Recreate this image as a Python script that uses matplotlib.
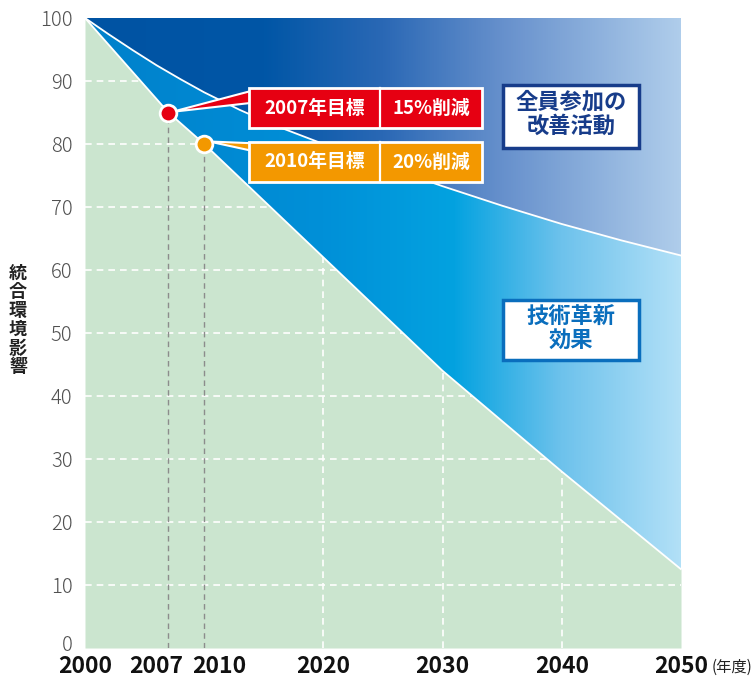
import matplotlib
matplotlib.use("Agg")
import matplotlib.pyplot as plt
import numpy as np
from matplotlib.colors import LinearSegmentedColormap
from matplotlib.patches import Polygon, Rectangle
from matplotlib.transforms import ScaledTranslation

plt.rcParams['font.family'] = ['Noto Sans CJK JP', 'DejaVu Sans']

# data
curve_years = [2000, 2002, 2004, 2006, 2008, 2010, 2013, 2016, 2020, 2025, 2030, 2035, 2040, 2045, 2050]
curve_vals = [100, 97.4, 94.9, 92.5, 90.3, 88.2, 85.4, 82.9, 80, 76.6, 73.3, 70.2, 67.3, 64.7, 62.3]  # 全員参加の改善活動 boundary
line_years = [2000, 2007, 2010, 2020, 2030, 2040, 2050]
line_vals = [100, 85, 80, 62, 44, 28, 12.5]                                     # 技術革新 boundary
target_years = [2007, 2010]
target_vals = [85, 80]
target_names = ['2007年目標', '2010年目標']
target_cuts = ['15%削減', '20%削減']
target_colors = ['#E60012', '#F39800']
xtick_years = [2000, 2007, 2010, 2020, 2030, 2040, 2050]
ytick_vals = list(range(0, 101, 10))

W, H = 753, 677
fig = plt.figure(figsize=(W / 100, H / 100), dpi=100)
ax = fig.add_axes([85 / W, (H - 648) / H, 596 / W, 630 / H])
ax.set_xlim(2000, 2050)
ax.set_ylim(0, 100)
for s in ax.spines.values():
    s.set_visible(False)

# green area
ax.fill_between(line_years, 0, line_vals, color='#CBE5CF', lw=0, zorder=1)

# white dashed grid (only shows on the green)
for v in ytick_vals[1:-1]:
    ax.axhline(v, color='white', lw=1.2, ls=(0, (4, 3)), zorder=2)
for yr in [2020, 2030, 2040]:
    ax.axvline(yr, color='white', lw=1.2, ls=(0, (4, 3)), zorder=2)

# gradient regions
grad = np.linspace(0, 1, 512).reshape(1, -1)
top_cmap = LinearSegmentedColormap.from_list('top', [
    (0, '#0053A3'), (0.3, '#0056A6'), (0.5, '#2A68B5'), (0.7, '#6690CC'), (1, '#AFCDEB')])
mid_cmap = LinearSegmentedColormap.from_list('mid', [
    (0, '#0080CB'), (0.4, '#0090D8'), (0.62, '#03A2E0'), (0.8, '#6DC2EC'), (1, '#B2E0F7')])

top_poly = Polygon(list(zip(curve_years, curve_vals)) + [(2050, 100), (2000, 100)],
                   closed=True, transform=ax.transData, fc='none', ec='none')
mid_poly = Polygon(list(zip(line_years, line_vals)) + list(zip(curve_years[::-1], curve_vals[::-1])),
                   closed=True, transform=ax.transData, fc='none', ec='none')
ax.add_patch(top_poly)
ax.add_patch(mid_poly)
im1 = ax.imshow(grad, cmap=top_cmap, extent=[2000, 2050, 0, 100], aspect='auto', zorder=3)
im1.set_clip_path(top_poly)
im2 = ax.imshow(grad, cmap=mid_cmap, extent=[2000, 2050, 0, 100], aspect='auto', zorder=3)
im2.set_clip_path(mid_poly)

ax.plot(curve_years, curve_vals, color='white', lw=1.3, zorder=4)
ax.plot(line_years, line_vals, color='white', lw=1.3, zorder=4)

# target markers with gray drop lines
for yr, v, c in zip(target_years, target_vals, target_colors):
    ax.plot([yr, yr], [0, v], color='#8C8C8C', lw=1, ls=(0, (4, 3)), zorder=2.5)
    ax.plot(yr, v, 'o', ms=12, mfc=c, mec='white', mew=2, zorder=8)

# callouts
box_x0, box_x1, box_div = 2013.75, 2033.3, 2024.75
box_rows = [(82.5, 88.9), (74.0, 80.3)]
wedges = [[(2007.3, 85.1), (2014.3, 88.6), (2014.3, 86.6)],
          [(2010.4, 80.4), (2014.3, 80.1), (2014.3, 78.8)]]
for (y0, y1), wg, name, cut, c in zip(box_rows, wedges, target_names, target_cuts, target_colors):
    ax.add_patch(Polygon(wg, closed=True, fc=c, ec='white', lw=1.5, zorder=6, joinstyle='miter'))
    ax.add_patch(Rectangle((box_x0, y0), box_x1 - box_x0, y1 - y0, fc=c, ec='white', lw=2, zorder=7))
    ax.plot([box_div, box_div], [y0, y1], color='white', lw=1.6, zorder=7.5)
    ym = (y0 + y1) / 2
    ax.text((box_x0 + box_div) / 2, ym, name, color='white', fontsize=13.5, fontweight='bold',
            ha='center', va='center', zorder=8)
    ax.text((box_div + box_x1) / 2, ym, cut, color='white', fontsize=13.5, fontweight='bold',
            ha='center', va='center', zorder=8)

# white label boxes
label_boxes = [((2035.1, 79.4, 2046.5, 89.4), '全員参加の\n改善活動', '#173C8A'),
               ((2035.1, 45.7, 2046.5, 55.2), '技術革新\n効果', '#0A6EBD')]
for (x0, y0, x1, y1), txt, c in label_boxes:
    ax.add_patch(Rectangle((x0, y0), x1 - x0, y1 - y0, fc='white', ec=c, lw=2.5, zorder=7))
    ax.text((x0 + x1) / 2, (y0 + y1) / 2 + 0.3, txt, color=c, fontsize=16, fontweight='bold',
            ha='center', va='center', linespacing=1.05, zorder=8)

# axes text
ax.set_yticks(ytick_vals)
ax.set_yticklabels(['' if v == 0 else str(v) for v in ytick_vals], fontsize=14.5,
                   color='#505050', fontweight='light')
for lab in ax.get_yticklabels():
    lab.set_verticalalignment('center_baseline')
# the "0" sits a little higher, clear of the year labels
ax.annotate('0', xy=(0, 0), xycoords='axes fraction', xytext=(-9, 3.5), textcoords='offset points',
            ha='right', va='center_baseline', fontsize=14.5, color='#505050', fontweight='light')
ax.set_xticks(xtick_years)
ax.set_xticklabels([str(v) for v in xtick_years], fontsize=16.5, fontweight='bold', color='#111111')
ax.tick_params(axis='both', length=0)
ax.tick_params(axis='y', pad=9)
ax.tick_params(axis='x', pad=5)
shifts = {2007: -12, 2010: 15}
for yr, lab in zip(xtick_years, ax.get_xticklabels()):
    if yr in shifts:
        lab.set_transform(lab.get_transform() + ScaledTranslation(shifts[yr] / 100, 0, fig.dpi_scale_trans))
ax.text(2054.3, -3.1, '(年度)', fontsize=11, color='#222222', ha='center', va='center', clip_on=False)

fig.text(18 / W, 1 - 320 / H, '\n'.join('統合環境影響'), fontsize=13, fontweight='bold',
         color='#222222', ha='center', va='center', linespacing=0.98)

fig.savefig('out.png', dpi=100)
